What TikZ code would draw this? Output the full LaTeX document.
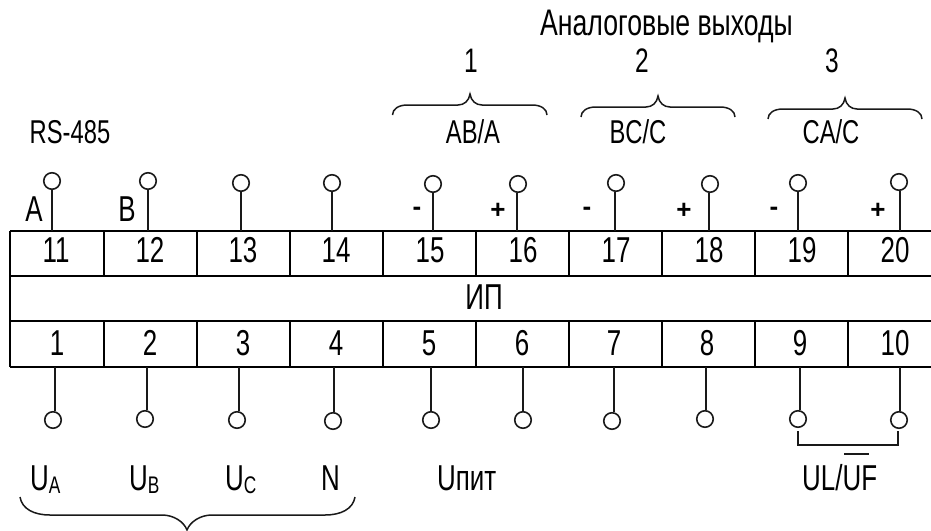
\documentclass[tikz,border=0pt]{standalone}
\usepackage{fontspec}
\setmainfont{Liberation Sans}[FakeStretch=0.72]
\newfontfamily\wideplain{Liberation Sans}
\tikzset{x=1pt,y=-1pt,
  grid/.style={line width=2pt,black},
  wire/.style={line width=1.7pt,black!90},
  term/.style={circle,draw=black!90,line width=1.6pt,minimum size=16.5pt,inner sep=0pt,fill=white},
  lab/.style={inner sep=0pt,anchor=base,font=\fontsize{36}{36}\selectfont,text=black},
  mid/.style={inner sep=0pt,anchor=base,font=\fontsize{33}{33}\selectfont,text=black},
  sign/.style={inner sep=0pt,font=\wideplain\bfseries\fontsize{26}{26}\selectfont,text=black},
  brace/.style={line width=1.5pt,black!90}}
\newcommand{\upbrace}[4]{% left,tip,right,top
  \draw[brace] (#1,#4+21) .. controls (#1,#4+15) and (#1+6,#4+11) .. (#1+15,#4+11)
    -- (#2-12,#4+11) .. controls (#2-6,#4+11) and (#2-1,#4+7) .. (#2,#4)
    .. controls (#2+1,#4+7) and (#2+6,#4+11) .. (#2+12,#4+11)
    -- (#3-15,#4+11) .. controls (#3-6,#4+11) and (#3,#4+15) .. (#3,#4+21);}
\newcommand{\subtxt}[1]{{\fontsize{24}{24}\selectfont\raisebox{-3pt}{#1}}}
\begin{document}
\begin{tikzpicture}
\useasboundingbox (0,0) rectangle (931,530);
% grid
\coordinate (tl) at (10,231); \coordinate (tr) at (931,231);
\coordinate (ml) at (10,276); \coordinate (mr) at (931,276);
\coordinate (nl) at (10,321); \coordinate (nr) at (931,321);
\coordinate (bl) at (10,367); \coordinate (br) at (931,367);
\draw[grid] (tl)--(tr) (ml)--(mr) (nl)--(nr) (bl)--(br) (tl)--(bl);
\foreach \x in {104,197,290,383,476,569,662,755,848}{
  \draw[grid] (\x,231)--(\x,276) (\x,321)--(\x,367);}
% numbers
\foreach \n/\x in {11/56,12/150,13/243,14/336,15/430,16/523,17/616,18/709,19/802,20/895}
  \node[lab] (n\n) at (\x,262) {\n};
\foreach \n/\x in {1/57,2/150,3/243,4/336,5/429,6/522,7/614,8/707,9/800,10/895}
  \node[lab] (n\n) at (\x,355.5) {\n};
\node[lab] (ip) at (484,309) {ИП};
% upper terminals: number / wire x / circle x / circle y
\foreach \n/\lx/\cx/\cy in {11/52/52/181,12/148/148/181,13/241/241/183,14/332/332/183,15/433/433/184,
    16/517/518/184,17/615/616/183,18/709/710/184,19/798/798/183,20/900/899/182}{
  \node[term] (c\n) at (\cx,\cy) {};
  \coordinate (w\n) at (\lx,231);
  \draw[wire] (w\n) -- (w\n |- c\n.south);
}
% lower terminals
\foreach \n/\lx/\cx/\cy in {1/55/53/420,2/147/145/419,3/239/237/420,4/334/333/421,5/431/431/420,
    6/523/523/420,7/614/612/421,8/706/705/419,9/800/798/419,10/900/899/420}{
  \node[term] (c\n) at (\cx,\cy) {};
  \coordinate (w\n) at (\lx,367);
  \draw[wire] (w\n) -- (w\n |- c\n.north);
}
% jumper
\coordinate (j1) at (798,431); \coordinate (j2) at (898,431);
\draw[wire] (j1) -- ++(0,14) -| (j2);
% labels
\node[lab,font=\fontsize{37}{37}\selectfont,anchor=base west] (title) at (540,35) {Аналоговые выходы};
\node[lab,font=\fontsize{34}{34}\selectfont] (o1) at (471,72) {1};
\node[lab,font=\fontsize{34}{34}\selectfont] (o2) at (642,72) {2};
\node[lab,font=\fontsize{34}{34}\selectfont] (o3) at (832,72) {3};
\upbrace{392.5}{470}{547}{94}
\upbrace{581}{658}{735}{96}
\upbrace{768}{845}{922}{98}
\node[mid] (abA) at (473,143) {AB/A};
\node[mid] (bcC) at (638,143) {BC/C};
\node[mid] (caC) at (831,143) {CA/C};
\node[mid] (rs) at (70,143) {RS-485};
\node[lab] (lA) at (34,221) {A};
\node[lab] (lB) at (127,221) {B};
\foreach \s/\t/\x in {m15/-/417,p16/+/498,m17/-/587,p18/+/684,m19/-/774,p20/+/878}
  \node[sign] (s\s) at (\x,211) {\t};
\node[lab,anchor=base west] (ua) at (30,490) {U\subtxt{A}};
\node[lab,anchor=base west] (ub) at (129,490) {U\subtxt{B}};
\node[lab,anchor=base west] (uc) at (225,490) {U\subtxt{C}};
\node[lab,anchor=base west] (un) at (321,490) {N};
\node[lab,anchor=base west] (upit) at (437,490) {Uпит};
\node[lab,anchor=base west] (ul) at (802,490) {UL/UF};
\coordinate (ob1) at (844,454); \coordinate (ob2) at (869,454);
\draw[wire,line width=2pt] (ob1) -- (ob2);
% lower brace
\draw[brace] (20,497) .. controls (22,509) and (34,515) .. (50,515)
  -- (162,515) .. controls (174,515) and (184,522) .. (187,530)
  .. controls (190,522) and (200,515) .. (212,515)
  -- (325,515) .. controls (341,515) and (353,509) .. (355,497);
\end{tikzpicture}
\end{document}
